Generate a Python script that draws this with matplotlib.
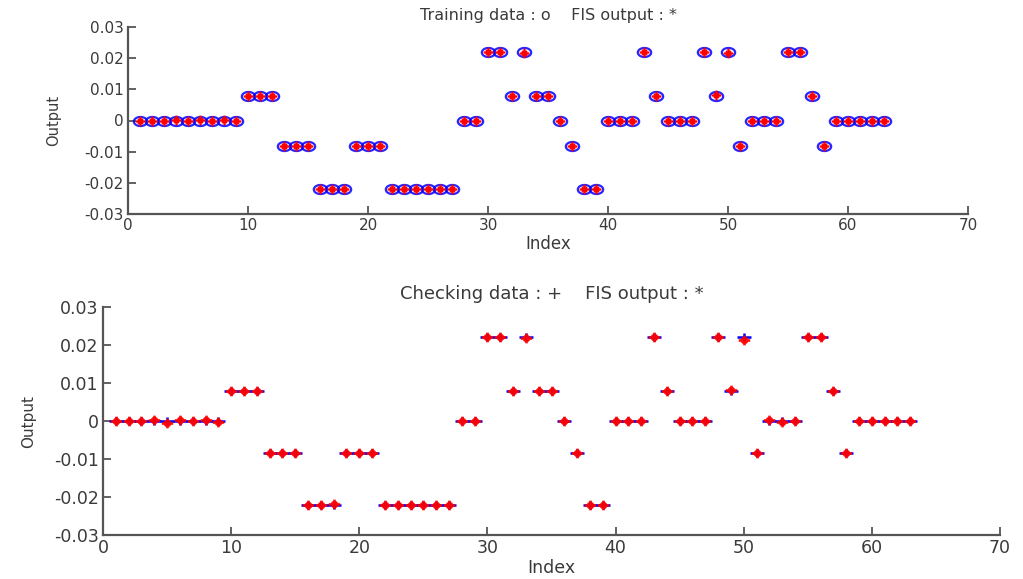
import numpy as np
import matplotlib
matplotlib.use("Agg")
import matplotlib.pyplot as plt
from matplotlib.path import Path

plt.rcParams['font.family'] = ['DejaVu Sans']

index = list(range(1, 64))

# Training targets and FIS output for the training set
train_target = [0, 0, 0, 0, 0, 0, 0, 0, 0,
                0.008, 0.008, 0.008,
                -0.0083, -0.0083, -0.0083,
                -0.022, -0.022, -0.022,
                -0.0083, -0.0083, -0.0083,
                -0.022, -0.022, -0.022, -0.022, -0.022, -0.022,
                0, 0,
                0.022, 0.022, 0.008, 0.022, 0.008, 0.008,
                0, -0.0083, -0.022, -0.022,
                0, 0, 0,
                0.022, 0.008, 0, 0, 0,
                0.022, 0.008, 0.022, -0.0083,
                0, 0, 0,
                0.022, 0.022, 0.008, -0.0083,
                0, 0, 0, 0, 0]
train_fis = [0, 0, 0, 0.0001, 0, 0.0001, 0, 0.0001, 0,
             0.008, 0.008, 0.008,
             -0.0083, -0.0083, -0.0083,
             -0.022, -0.022, -0.022,
             -0.0083, -0.0083, -0.0083,
             -0.022, -0.022, -0.022, -0.022, -0.022, -0.022,
             0, 0,
             0.022, 0.022, 0.008, 0.0218, 0.008, 0.008,
             0, -0.0083, -0.022, -0.022,
             0, 0, 0,
             0.022, 0.008, 0, 0, 0,
             0.022, 0.0082, 0.0215, -0.0083,
             0, 0, 0,
             0.022, 0.022, 0.008, -0.0083,
             0, 0, 0, 0, 0]

# Checking targets and FIS output for the checking set
check_target = list(train_target)
check_fis = [0, 0, 0, 0.0003, -0.0004, 0.0002, 0, 0.0002, -0.0002,
             0.008, 0.008, 0.008,
             -0.0083, -0.0083, -0.0083,
             -0.022, -0.022, -0.0219,
             -0.0083, -0.0083, -0.0083,
             -0.022, -0.022, -0.022, -0.022, -0.022, -0.022,
             0, 0,
             0.022, 0.022, 0.008, 0.0218, 0.008, 0.008,
             0, -0.0083, -0.022, -0.022,
             0, 0, 0,
             0.022, 0.008, 0, 0, 0,
             0.022, 0.0082, 0.0214, -0.0083,
             0.0003, -0.0003, 0,
             0.022, 0.022, 0.0078, -0.0083,
             0, 0, 0, 0, 0]

xticks = [0, 10, 20, 30, 40, 50, 60, 70]
yticks = [-0.03, -0.02, -0.01, 0, 0.01, 0.02, 0.03]
yticklabels = ['-0.03', '-0.02', '-0.01', '0', '0.01', '0.02', '0.03']


def ellipse_marker(sx, sy, n=40):
    t = np.linspace(0, 2 * np.pi, n)
    v = np.column_stack([sx * np.cos(t), sy * np.sin(t)])
    return Path(v, closed=True)


def plus_marker(sx, sy):
    v = [(-sx, 0), (sx, 0), (0, -sy), (0, sy)]
    c = [Path.MOVETO, Path.LINETO, Path.MOVETO, Path.LINETO]
    return Path(v, c)


def star_marker(sx, sy, d=0.5):
    v = [(-sx, 0), (sx, 0), (0, -sy), (0, sy),
         (-sx * d, -sy * d), (sx * d, sy * d), (-sx * d, sy * d), (sx * d, -sy * d)]
    c = [Path.MOVETO, Path.LINETO] * 4
    return Path(v, c)


GREY = '#3a3a3a'


def style_axes(ax, fs):
    ax.set_xlim(0, 70)
    ax.set_ylim(-0.03, 0.03)
    ax.set_xticks(xticks)
    ax.set_yticks(yticks)
    ax.set_yticklabels(yticklabels)
    for s in ['top', 'right']:
        ax.spines[s].set_visible(False)
    for s in ['left', 'bottom']:
        ax.spines[s].set_color('#555555')
        ax.spines[s].set_linewidth(1.6)
    ax.tick_params(direction='in', length=6, width=1.3, color='#555555',
                   labelsize=fs, labelcolor=GREY, pad=3)


fig = plt.figure(figsize=(10.23, 5.79), dpi=100)

ax1 = fig.add_axes([128 / 1023, 1 - 214 / 579, 840 / 1023, 187 / 579])
ax1.plot(index, train_target, linestyle='none', marker=ellipse_marker(1.0, 0.68),
         markersize=9.6, markerfacecolor='none', markeredgecolor='blue',
         markeredgewidth=1.6, alpha=0.85)
ax1.plot(index, train_fis, linestyle='none', marker=star_marker(1.0, 1.0),
         markersize=7, markeredgecolor='red', markerfacecolor='none',
         markeredgewidth=1.6)
style_axes(ax1, 11)
ax1.set_title('Training data : o    FIS output : *', fontsize=11.5, color=GREY, pad=5)
ax1.set_xlabel('Index', fontsize=12, color=GREY, labelpad=1)
ax1.set_ylabel('Output', fontsize=10.5, color=GREY, labelpad=17)

ax2 = fig.add_axes([103 / 1023, 1 - 535 / 579, 897 / 1023, 228 / 579])
ax2.plot(index, check_target, linestyle='none', marker=plus_marker(1.0, 0.55),
         markersize=10, markeredgecolor='blue', markeredgewidth=1.8)
ax2.plot(index, check_fis, linestyle='none', marker=star_marker(1.0, 0.85),
         markersize=8.2, markeredgecolor='red', markerfacecolor='none',
         markeredgewidth=1.9, alpha=0.95)
style_axes(ax2, 12.5)
ax2.set_title('Checking data : +    FIS output : *', fontsize=13, color=GREY, pad=6)
ax2.set_xlabel('Index', fontsize=12.5, color=GREY, labelpad=1)
ax2.set_ylabel('Output', fontsize=11, color=GREY, labelpad=13)

fig.savefig('out.png', dpi=100)
